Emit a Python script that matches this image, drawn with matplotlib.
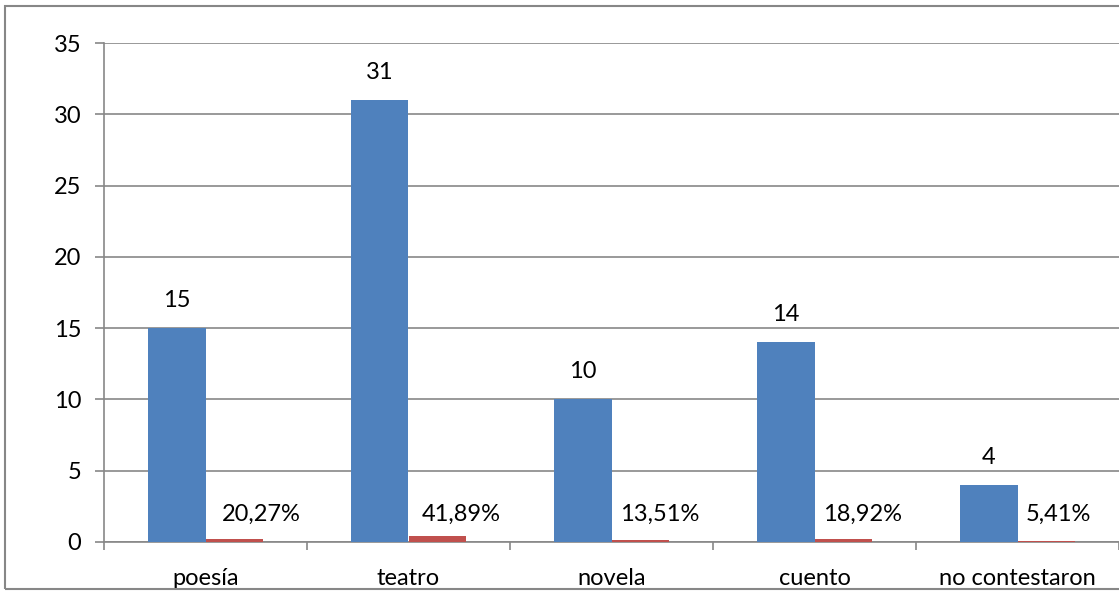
import matplotlib.pyplot as plt
from matplotlib.patches import Rectangle
import numpy as np

categorias = ['poesía', 'teatro', 'novela', 'cuento', 'no contestaron']
cantidad = [15, 31, 10, 14, 4]
porcentaje = [0.2027, 0.4189, 0.1351, 0.1892, 0.0541]
etiquetas_pct = ['20,27%', '41,89%', '13,51%', '18,92%', '5,41%']

plt.rcParams['font.family'] = ['Lato', 'DejaVu Sans']

fig = plt.figure(figsize=(11.19, 5.92), dpi=100)
ax = fig.add_axes([104 / 1119, 1 - 542 / 592, 1 - 104 / 1119, (542 - 43) / 592])

# marco exterior del grafico
fig.patches.append(Rectangle((5 / 1119, 3 / 592), 1.2, 583 / 592, transform=fig.transFigure,
                             fill=False, edgecolor='#878787', linewidth=1.5, zorder=5))

x = np.arange(len(categorias))
w = 0.285
azul = ax.bar(x - w / 2, cantidad, w, color='#4F81BD', zorder=3)
rojo = ax.bar(x + w / 2, porcentaje, w, color='#C0504D', zorder=3)

fs = 17

for b, v in zip(azul, cantidad):
    ax.annotate(str(v), (b.get_x() + b.get_width() / 2, v), xytext=(0, 20),
                textcoords='offset points', ha='center', va='center', fontsize=fs)

# las etiquetas rojas estan corridas a la derecha en el original
desplaz = [27, 24, 19, 19, 12]
for b, t, d in zip(rojo, etiquetas_pct, desplaz):
    ax.annotate(t, (b.get_x() + b.get_width() / 2, 0), xytext=(d * 0.72, 20),
                textcoords='offset points', ha='center', va='center', fontsize=fs)

ax.set_ylim(0, 35)
ax.set_xlim(-0.5, len(categorias) - 0.5)
ax.set_yticks(range(0, 36, 5))
ax.yaxis.grid(True, color='#878787', linewidth=1.2, zorder=0)
ax.tick_params(axis='y', length=6.5, width=1.2, color='#878787', pad=10, labelsize=fs)

ax.set_xticks(np.arange(-0.5, len(categorias), 1))
ax.set_xticklabels([])
ax.set_xticks(x, minor=True)
ax.set_xticklabels(categorias, minor=True)
ax.tick_params(axis='x', which='major', length=6, width=1.2, color='#878787')
ax.tick_params(axis='x', which='minor', length=0, pad=19, labelsize=fs)

for s in ['top', 'right']:
    ax.spines[s].set_visible(False)
for s in ['left', 'bottom']:
    ax.spines[s].set_color('#878787')
    ax.spines[s].set_linewidth(1.2)

fig.savefig('out.png', dpi=100)
